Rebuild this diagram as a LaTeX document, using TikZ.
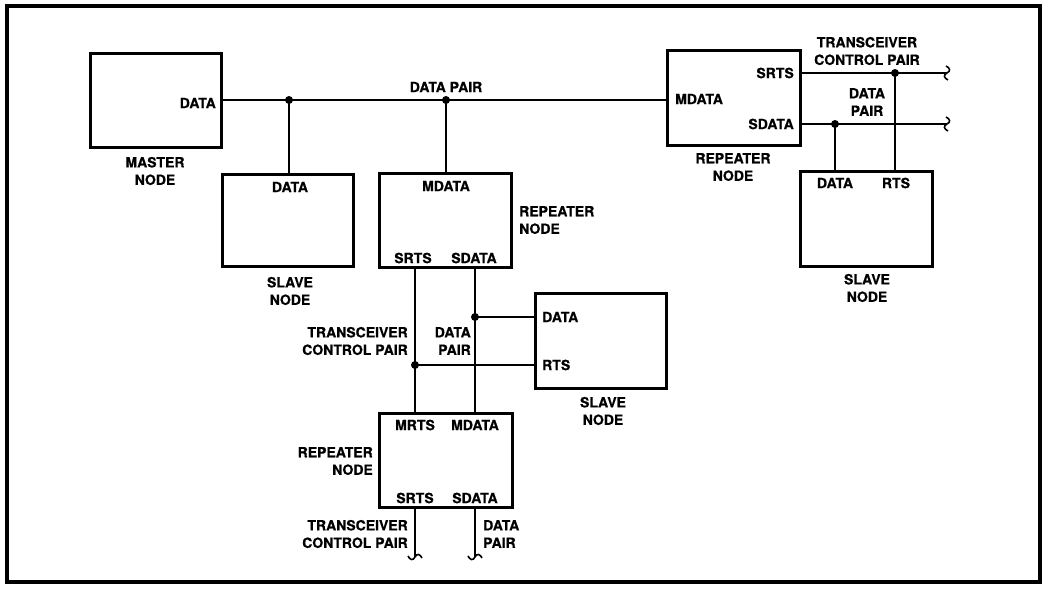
\documentclass[tikz,border=0pt]{standalone}
\usepackage{fontspec}
\newfontfamily\hfont{texgyreheros-bold.otf}[FakeBold=0.7]
\begin{document}
\begin{tikzpicture}[x=1pt,y=-1pt,
  box/.style={draw,rectangle,line width=3pt,inner sep=0pt},
  wire/.style={line width=2pt},
  lbl/.style={font=\hfont\fontsize{14}{17.5}\selectfont,inner sep=0pt},
  dot/.style={circle,fill,inner sep=0pt,minimum size=8pt}]
\useasboundingbox (0,0) rectangle (1047,589);
\draw[line width=3.2pt] (7,6) rectangle (1040,582);
% boxes
\node[box,minimum width=131pt,minimum height=94pt] (master) at (155.5,100) {};
\node[box,minimum width=131pt,minimum height=92pt] (slave1) at (287.5,220) {};
\node[box,minimum width=132pt,minimum height=94pt] (rep1) at (445,220) {};
\node[box,minimum width=133pt,minimum height=95pt] (rep2) at (733.5,98) {};
\node[box,minimum width=132pt,minimum height=95pt] (slave2) at (866,218.5) {};
\node[box,minimum width=131pt,minimum height=95pt] (slave3) at (600.5,340.5) {};
\node[box,minimum width=133pt,minimum height=94pt] (rep3) at (445.5,460) {};
% coordinates
\coordinate (j1) at (289,100);
\coordinate (j2) at (446,100);
\coordinate (j3) at (895,73);
\coordinate (j4) at (835,124);
\coordinate (j5) at (475,317);
\coordinate (j6) at (415,365);
\coordinate (e1) at (947,73);
\coordinate (e2) at (947,124);
\coordinate (e3) at (415,557);
\coordinate (e4) at (475,557);
% wires
\draw[wire] (master.east |- j1) -- (rep2.west |- j1);
\draw[wire] (j1) -- (j1 |- slave1.north);
\draw[wire] (j2) -- (j2 |- rep1.north);
\draw[wire] (rep2.east |- j3) -- (e1);
\draw[wire] (rep2.east |- j4) -- (e2);
\draw[wire] (j3) -- (j3 |- slave2.north);
\draw[wire] (j4) -- (j4 |- slave2.north);
\draw[wire] (rep1.south -| j6) -- (rep3.north -| j6);
\draw[wire] (rep1.south -| j5) -- (rep3.north -| j5);
\draw[wire] (j5) -- (j5 -| slave3.west);
\draw[wire] (j6) -- (j6 -| slave3.west);
\draw[wire] (rep3.south -| e3) -- (e3);
\draw[wire] (rep3.south -| e4) -- (e4);
% squiggle ends
\foreach \e in {e1,e2}{
  \draw[wire,line width=1.6pt] (\e) .. controls +(4,-2) and +(4,2) .. +(-1,-7);
  \draw[wire,line width=1.6pt] (\e) .. controls +(-4,2) and +(-4,-2) .. +(1,7);
}
\foreach \e in {e3,e4}{
  \draw[wire,line width=1.6pt] (\e) .. controls +(-2,4) and +(2,4) .. +(-7,-1);
  \draw[wire,line width=1.6pt] (\e) .. controls +(2,-4) and +(-2,-4) .. +(7,1);
}
% dots
\foreach \j in {j1,j2,j3,j4,j5,j6}{\node[dot] at (\j) {};}
% labels
\node[lbl,anchor=east] at (216,103) {DATA};
\node[lbl,align=center] at (155,171) {MASTER\\NODE};
\node[lbl] at (290,187) {DATA};
\node[lbl,align=center] at (290,291) {SLAVE\\NODE};
\node[lbl] at (446,87) {DATA PAIR};
\node[lbl] at (446,186) {MDATA};
\node[lbl,align=left,anchor=west] at (519,220) {REPEATER\\NODE};
\node[lbl] at (413,258) {SRTS};
\node[lbl] at (474,258) {SDATA};
\node[lbl,anchor=west] at (675,99) {MDATA};
\node[lbl,anchor=east] at (794,73) {SRTS};
\node[lbl,anchor=east] at (794,124) {SDATA};
\node[lbl,align=center] at (733,167) {REPEATER\\NODE};
\node[lbl,align=center] at (867,51) {TRANSCEIVER\\CONTROL PAIR};
\node[lbl,align=center] at (867,102) {DATA\\PAIR};
\node[lbl] at (835,183) {DATA};
\node[lbl] at (896,183) {RTS};
\node[lbl,align=center] at (867,288) {SLAVE\\NODE};
\node[lbl,align=right,anchor=east] at (408,341) {TRANSCEIVER\\CONTROL PAIR};
\node[lbl,align=right,anchor=east] at (471,341) {DATA\\PAIR};
\node[lbl,anchor=west] at (542,317) {DATA};
\node[lbl,anchor=west] at (542,365) {RTS};
\node[lbl,align=center] at (603,411) {SLAVE\\NODE};
\node[lbl] at (415,425) {MRTS};
\node[lbl] at (475,425) {MDATA};
\node[lbl] at (415,498) {SRTS};
\node[lbl] at (475,498) {SDATA};
\node[lbl,align=right,anchor=east] at (373,461) {REPEATER\\NODE};
\node[lbl,align=right,anchor=east] at (408,534) {TRANSCEIVER\\CONTROL PAIR};
\node[lbl,align=left,anchor=west] at (483,534) {DATA\\PAIR};
\end{tikzpicture}
\end{document}
